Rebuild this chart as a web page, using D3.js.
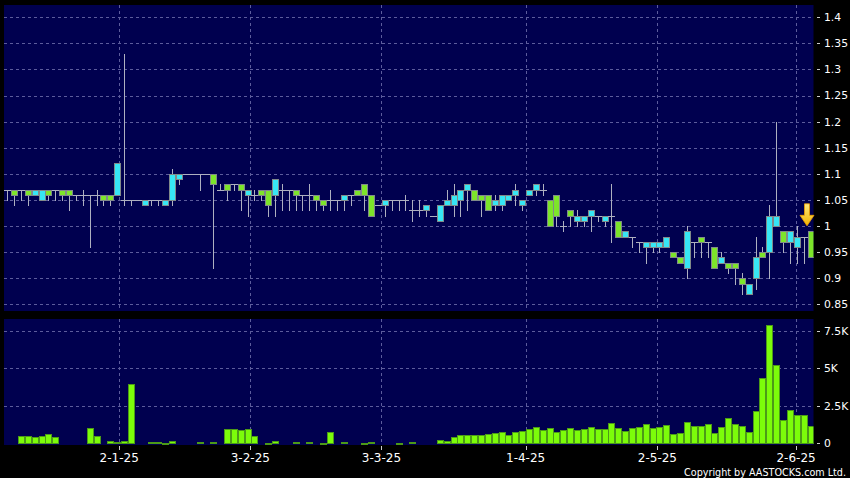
<!DOCTYPE html>
<html><head><meta charset="utf-8">
<script src="https://cdn.jsdelivr.net/npm/d3@7"></script>
<style>html,body{margin:0;padding:0;background:#000;} svg{display:block;}</style>
</head><body><svg id="c" width="850" height="478"></svg>
<script>
// ---- data (prices in HKD, volume in thousands) ----
const openP = [1.07,1.07,1.07,1.07,1.06,1.05,1.07,1.07,1.07,1.07,1.06,1.06,1.06,1.06,1.06,1.06,1.06,1.05,1.05,1.05,
1.04,1.05,1.05,1.04,1.05,1.09,1.10,1.10,1.10,1.10,1.10,1.07,1.08,1.08,1.08,1.06,1.06,1.07,1.07,1.06,
1.07,1.07,1.07,1.06,1.06,1.06,1.05,1.05,1.05,1.05,1.06,1.07,1.08,1.06,1.04,1.04,1.05,1.05,1.05,1.03,
1.03,1.03,1.02,1.01,1.04,1.04,1.05,1.07,1.07,1.06,1.06,1.04,1.04,1.05,1.06,1.04,1.06,1.07,1.07,1.05,
1.06,1.00,1.03,1.01,1.01,1.02,1.02,1.01,1.02,1.01,0.98,0.98,0.97,0.96,0.96,0.96,0.96,0.95,0.94,0.92,
0.97,0.98,0.97,0.96,0.93,0.93,0.93,0.90,0.87,0.90,0.95,0.95,1.00,0.99,0.97,0.96,0.98,0.99];
const closeP = [1.07,1.06,1.07,1.06,1.07,1.07,1.06,1.07,1.06,1.06,1.06,1.06,1.06,1.06,1.05,1.05,1.12,1.05,1.05,1.05,
1.05,1.05,1.05,1.05,1.10,1.10,1.10,1.10,1.10,1.10,1.08,1.07,1.07,1.08,1.07,1.07,1.06,1.06,1.04,1.09,
1.07,1.07,1.06,1.06,1.06,1.05,1.04,1.05,1.05,1.06,1.06,1.06,1.06,1.02,1.04,1.05,1.05,1.05,1.05,1.03,
1.03,1.04,1.02,1.04,1.05,1.06,1.07,1.08,1.05,1.05,1.03,1.05,1.06,1.06,1.07,1.05,1.07,1.08,1.07,1.00,
1.02,1.00,1.02,1.02,1.02,1.03,1.02,1.02,1.02,0.98,0.99,0.98,0.97,0.97,0.97,0.97,0.98,0.94,0.93,0.99,
0.97,0.97,0.97,0.92,0.94,0.92,0.92,0.89,0.89,0.94,0.94,1.02,1.02,0.97,0.99,0.98,0.98,0.94];
const highP = [1.07,1.07,1.07,1.07,1.07,1.07,1.07,1.07,1.07,1.07,1.06,1.07,1.06,1.07,1.06,1.06,1.12,1.33,1.05,1.05,
1.05,1.05,1.05,1.05,1.11,1.10,1.10,1.10,1.10,1.10,1.10,1.08,1.08,1.08,1.08,1.07,1.07,1.07,1.07,1.09,
1.08,1.07,1.07,1.06,1.08,1.06,1.05,1.07,1.05,1.06,1.06,1.07,1.08,1.06,1.04,1.05,1.05,1.05,1.06,1.05,
1.05,1.04,1.02,1.04,1.07,1.08,1.07,1.08,1.07,1.06,1.06,1.06,1.06,1.06,1.08,1.05,1.07,1.08,1.08,1.05,
1.06,1.01,1.03,1.03,1.02,1.03,1.02,1.02,1.08,1.01,0.99,0.98,0.97,0.97,0.97,0.97,0.98,0.95,0.94,1.00,
0.97,0.98,0.97,0.96,0.95,0.93,0.93,0.91,0.89,0.98,0.96,1.04,1.20,0.99,0.99,1.00,0.98,0.99];
const lowP = [1.05,1.04,1.05,1.04,1.06,1.05,1.05,1.05,1.05,1.03,1.05,1.04,0.96,1.04,1.04,1.04,1.06,1.04,1.04,1.05,
1.04,1.04,1.04,1.04,1.04,1.08,1.10,1.10,1.07,1.10,0.92,1.07,1.05,1.07,1.03,1.02,1.05,1.05,1.02,1.02,
1.03,1.03,1.03,1.03,1.03,1.03,1.03,1.03,1.03,1.03,1.04,1.06,1.03,1.02,1.04,1.02,1.03,1.03,1.03,1.01,
1.02,1.02,1.02,1.01,1.04,1.02,1.02,1.03,1.05,1.02,1.03,1.03,1.03,1.05,1.04,1.03,1.06,1.06,1.06,1.00,
1.00,0.99,1.00,1.00,1.00,0.99,1.01,1.00,0.97,0.98,0.98,0.96,0.95,0.93,0.95,0.95,0.96,0.94,0.93,0.90,
0.94,0.94,0.94,0.92,0.93,0.91,0.89,0.87,0.87,0.88,0.94,0.90,1.00,0.95,0.93,0.93,0.93,0.94];
const volumeK = [0,0,0.47,0.49,0.44,0.49,0.6,0.4,0,0,0,0,1.0,0.51,0,0.18,0.09,0.18,3.93,0,
0,0.09,0.07,0.04,0.16,0,0,0,0.07,0,0.07,0,0.93,0.96,0.89,0.96,0.47,0,0.04,0.16,
0,0,0.07,0,0.07,0,0.04,0.73,0,0.07,0,0,0.04,0.07,0,0,0,0.03,0,0.09,
0,0,0,0.2,0.16,0.4,0.58,0.58,0.56,0.56,0.62,0.67,0.76,0.53,0.73,0.8,0.98,1.07,0.89,1.04,
0.78,0.89,1.0,0.89,0.93,1.07,0.93,0.96,1.33,1.04,0.82,1.02,1.07,1.31,1.04,1.09,1.2,0.62,0.71,1.42,
1.16,1.16,1.27,0.71,1.07,1.71,1.27,1.16,0.76,2.13,4.38,7.87,5.22,1.56,2.22,1.87,1.91,1.18];
const priceTicks = [0.85,0.9,0.95,1.0,1.05,1.1,1.15,1.2,1.25,1.3,1.35,1.4];
const priceTickLabels = ["0.85","0.9","0.95","1","1.05","1.1","1.15","1.2","1.25","1.3","1.35","1.4"];
const volTicks = [0,2.5,5,7.5];
const volTickLabels = ["0","2.5K","5K","7.5K"];
const dateTickIdx = [16.3,35.4,54.5,75.5,94.7,114.9];
const dateTickLabels = ["2-1-25","3-2-25","3-3-25","1-4-25","2-5-25","2-6-25"];

// ---- layout ----
const svg = d3.select("#c");
const W = 850, H = 478;
const mainTop = 5, mainBot = 311, volTop = 319, volBot = 445, left = 4, right = 813.5;
const x = d3.scaleLinear().domain([0, openP.length - 1]).range([7.3, 810.5]);
const y = d3.scaleLinear().domain([0.85, 1.4]).range([304.4, 17.3]);
const yv = d3.scaleLinear().domain([0, 7.5]).range([443.3, 330.7]);
const UP = "#37e6f4", DOWN = "#7de52a", GRID = "#5c5c9c", WICK = "#aeb0c0", EDGE = "#808a8a";
const font = "'DejaVu Sans', Verdana, sans-serif";

svg.append("rect").attr("width", W).attr("height", H).attr("fill", "#000");
svg.append("rect").attr("x", left).attr("y", mainTop).attr("width", right-left).attr("height", mainBot-mainTop).attr("fill", "#00004f");
svg.append("rect").attr("x", left).attr("y", volTop).attr("width", right-left).attr("height", volBot-volTop).attr("fill", "#00004f");

const defs = svg.append("defs");
defs.append("clipPath").attr("id","cm").append("rect").attr("x", left).attr("y", mainTop).attr("width", right-left).attr("height", mainBot-mainTop);
defs.append("clipPath").attr("id","cv").append("rect").attr("x", left).attr("y", volTop).attr("width", right-left).attr("height", volBot-volTop);

const px = v => Math.round(v) + 0.5;
// grid
const g = svg.append("g").attr("stroke", GRID).attr("stroke-width", 1).attr("stroke-dasharray", "3,3").attr("shape-rendering","crispEdges");
priceTicks.forEach(t => g.append("line").attr("x1", left).attr("x2", right).attr("y1", px(y(t))).attr("y2", px(y(t))));
volTicks.filter(t => t > 0).forEach(t => g.append("line").attr("x1", left).attr("x2", right).attr("y1", px(yv(t))).attr("y2", px(yv(t))));
dateTickIdx.forEach(t => {
  g.append("line").attr("x1", px(x(t))).attr("x2", px(x(t))).attr("y1", mainTop).attr("y2", mainBot);
  g.append("line").attr("x1", px(x(t))).attr("x2", px(x(t))).attr("y1", volTop).attr("y2", volBot);
});

// candles
const cg = svg.append("g").attr("clip-path","url(#cm)").attr("shape-rendering","crispEdges");
openP.forEach((o, i) => {
  const c = closeP[i], cx = Math.round(x(i));
  cg.append("line").attr("x1", cx+0.5).attr("x2", cx+0.5).attr("y1", Math.round(y(highP[i]))).attr("y2", Math.round(y(lowP[i]))+1)
    .attr("stroke", WICK).attr("stroke-width", 1);
  if (o === c) {
    cg.append("line").attr("x1", cx-3).attr("x2", cx+4).attr("y1", px(y(c))).attr("y2", px(y(c))).attr("stroke", WICK);
  } else {
    const t = Math.round(y(Math.max(o,c))), b = Math.round(y(Math.min(o,c)));
    cg.append("rect").attr("x", cx-2.5).attr("y", t+0.5).attr("width", 6).attr("height", Math.max(1,b-t))
      .attr("fill", c > o ? UP : DOWN).attr("stroke", EDGE).attr("stroke-width", 1);
  }
});

// arrow marker above last candle
const li = openP.length - 1, ax = x(li) - 3.5, ay = y(highP[li]) - 5.5;
defs.append("linearGradient").attr("id","ag").attr("x1",0).attr("x2",0).attr("y1",0).attr("y2",1)
  .selectAll("stop").data([["0%","#ffe97a"],["100%","#f2b300"]]).join("stop").attr("offset",d=>d[0]).attr("stop-color",d=>d[1]);
svg.append("path").attr("d", `M${ax-2.5},${ay-22} L${ax+2.5},${ay-22} L${ax+2.5},${ay-10.5} L${ax+7},${ay-10.5} L${ax},${ay} L${ax-7},${ay-10.5} L${ax-2.5},${ay-10.5} Z`)
  .attr("fill","url(#ag)").attr("stroke","#f0a000").attr("stroke-width",0.8);

// volume bars
const vg = svg.append("g").attr("clip-path","url(#cv)").attr("shape-rendering","crispEdges");
volumeK.forEach((v, i) => {
  if (v <= 0) return;
  const cx = Math.round(x(i)), t = Math.round(yv(v)), b = Math.round(yv(0));
  vg.append("rect").attr("x", cx-2.5).attr("y", t+0.5).attr("width", 6).attr("height", Math.max(0.5, b-t))
    .attr("fill", "#7cfc0a").attr("stroke", "#4c9a18").attr("stroke-width", 1);
});

// right axes
const ax1 = svg.append("g").attr("font-family", font).attr("font-size", 10.8).attr("fill", "#fff");
priceTicks.forEach((t, k) => {
  ax1.append("line").attr("x1", 817).attr("x2", 820).attr("y1", px(y(t))).attr("y2", px(y(t))).attr("stroke", "#ccc").attr("shape-rendering","crispEdges");
  ax1.append("text").attr("x", 824).attr("y", y(t)).attr("dy", "0.36em").text(priceTickLabels[k]);
});
volTicks.forEach((t, k) => {
  ax1.append("line").attr("x1", 817).attr("x2", 820).attr("y1", px(yv(t))).attr("y2", px(yv(t))).attr("stroke", "#ccc").attr("shape-rendering","crispEdges");
  ax1.append("text").attr("x", 824).attr("y", yv(t)).attr("dy", "0.36em").text(volTickLabels[k]);
});
// date axis
const ax2 = svg.append("g").attr("font-family", font).attr("font-size", 12).attr("fill", "#fff").attr("text-anchor","middle");
dateTickIdx.forEach((t, k) => {
  ax2.append("line").attr("x1", px(x(t))).attr("x2", px(x(t))).attr("y1", 446).attr("y2", 450).attr("stroke", "#ccc").attr("shape-rendering","crispEdges");
  ax2.append("text").attr("x", x(t)).attr("y", 461.8).text(dateTickLabels[k]);
});
svg.append("text").attr("x", 846).attr("y", 475.8).attr("text-anchor","end")
  .attr("font-family", "'DejaVu Sans Condensed', 'DejaVu Sans', sans-serif").attr("font-stretch","condensed")
  .attr("font-size", 10.7).attr("fill", "#fff").text("Copyright by AASTOCKS.com Ltd.");
</script></body></html>
